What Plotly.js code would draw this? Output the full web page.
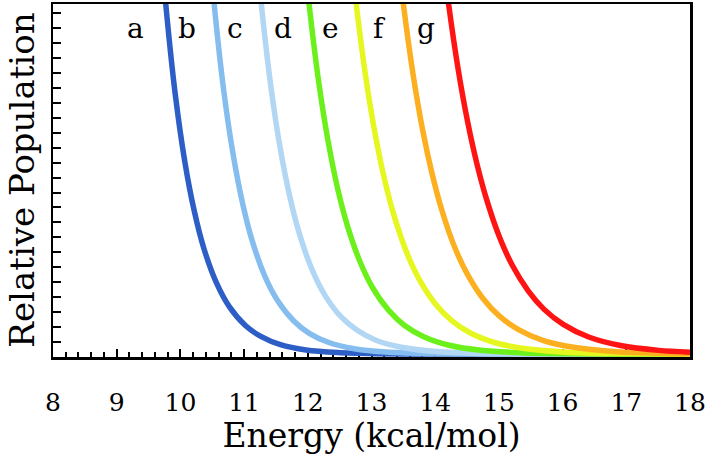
<!DOCTYPE html>
<html>
<head>
<meta charset="utf-8">
<script src="https://cdn.plot.ly/plotly-3.0.1.min.js"></script>
<style>
  html, body { margin: 0; padding: 0; background: #ffffff; }
  #chart { width: 706px; height: 463px; }
</style>
</head>
<body>
<div id="chart"></div>
<script>
// Curve labels and colours
var curveNames = ["a", "b", "c", "d", "e", "f", "g"];
var curveColors = ["#2d5ec6", "#86bdef", "#b2d7f4", "#6cf01c", "#e6f61f", "#fcb020", "#ff1414"];

// Energy (kcal/mol) sample points
var energyA = [9.67, 9.77, 9.92, 10.07, 10.22, 10.37, 10.57, 10.77, 11.02, 11.27, 11.57, 11.97, 12.47, 13.07, 13.77, 14.77, 18.0];
var popA    = [1.221, 1.0, 0.741, 0.549, 0.407, 0.301, 0.202, 0.135, 0.082, 0.050, 0.027, 0.012, 0.0045, 0.0014, 0.0003, 0.0001, 0.0];

var energyB = [10.43, 10.53, 10.68, 10.83, 10.98, 11.13, 11.33, 11.53, 11.78, 12.03, 12.33, 12.73, 13.23, 13.83, 14.53, 15.53, 18.0];
var popB    = [1.208, 1.0, 0.753, 0.568, 0.428, 0.322, 0.221, 0.152, 0.095, 0.059, 0.0335, 0.0158, 0.0061, 0.0020, 0.0005, 0.0001, 0.0];

var energyC = [11.17, 11.27, 11.42, 11.57, 11.72, 11.87, 12.07, 12.27, 12.52, 12.77, 13.07, 13.47, 13.97, 14.57, 15.27, 16.27, 18.0];
var popC    = [1.196, 1.0, 0.765, 0.585, 0.448, 0.343, 0.240, 0.168, 0.107, 0.069, 0.040, 0.0197, 0.0081, 0.0028, 0.0008, 0.0001, 0.0];

var energyD = [11.92, 12.02, 12.17, 12.32, 12.47, 12.62, 12.82, 13.02, 13.27, 13.52, 13.82, 14.22, 14.72, 15.32, 16.02, 17.02, 18.0];
var popD    = [1.181, 1.0, 0.779, 0.607, 0.472, 0.368, 0.264, 0.189, 0.125, 0.082, 0.050, 0.0256, 0.0111, 0.0041, 0.0013, 0.0002, 0.0001];

var energyE = [12.66, 12.76, 12.91, 13.06, 13.21, 13.36, 13.56, 13.76, 14.01, 14.26, 14.56, 14.96, 15.46, 16.06, 16.76, 17.76, 18.0];
var popE    = [1.169, 1.0, 0.791, 0.626, 0.495, 0.392, 0.287, 0.210, 0.142, 0.096, 0.060, 0.032, 0.0147, 0.0058, 0.0019, 0.0004, 0.0003];

var energyF = [13.40, 13.50, 13.65, 13.80, 13.95, 14.10, 14.30, 14.50, 14.75, 15.00, 15.30, 15.70, 16.20, 16.80, 17.50, 18.0];
var popF    = [1.158, 1.0, 0.802, 0.643, 0.516, 0.414, 0.308, 0.230, 0.159, 0.110, 0.071, 0.039, 0.0189, 0.0078, 0.0028, 0.0013];

var energyG = [14.11, 14.21, 14.36, 14.51, 14.66, 14.81, 15.01, 15.21, 15.46, 15.71, 16.01, 16.41, 16.91, 17.51, 18.0];
var popG    = [1.147, 1.0, 0.814, 0.663, 0.540, 0.440, 0.334, 0.254, 0.181, 0.128, 0.085, 0.049, 0.0247, 0.0109, 0.0056];

// Label positions (energy) for the letters a-g
var labelEnergy = [9.29, 10.10, 10.86, 11.61, 12.36, 13.12, 13.86];
var labelPop = 0.93;

var xTickVals = [8, 9, 10, 11, 12, 13, 14, 15, 16, 17, 18];
var xTickText = ["8", "9", "10", "11", "12", "13", "14", "15", "16", "17", "18"];

var xTitle = "Energy (kcal/mol)";
var yTitle = "Relative Population";

var energies = [energyA, energyB, energyC, energyD, energyE, energyF, energyG];
var pops = [popA, popB, popC, popD, popE, popF, popG];

var serif = "DejaVu Serif, Liberation Serif, serif";

var traces = energies.map(function (xs, i) {
  return {
    type: "scatter",
    mode: "lines",
    name: curveNames[i],
    x: xs,
    y: pops[i],
    line: { color: curveColors[i], width: 5.5, shape: "spline", smoothing: 0.8 },
    hoverinfo: "skip"
  };
});

var annotations = curveNames.map(function (n, i) {
  return {
    x: labelEnergy[i], y: labelPop, xref: "x", yref: "y",
    text: n, showarrow: false,
    font: { family: serif, size: 28, color: "#000000" }
  };
});

// y-axis title as rotated text left of the plot
annotations.push({
  x: -0.05, y: 0.5, xref: "paper", yref: "paper",
  xanchor: "center", yanchor: "middle",
  text: yTitle, textangle: -90, showarrow: false,
  font: { family: serif, size: 34, color: "#000000" }
});

var layout = {
  width: 706, height: 463,
  margin: { l: 53, r: 16, t: 4, b: 106 },
  paper_bgcolor: "#ffffff", plot_bgcolor: "#ffffff",
  showlegend: false,
  xaxis: {
    range: [8, 18],
    tickmode: "array", tickvals: xTickVals, ticktext: xTickText,
    ticks: "inside", ticklen: 8, tickwidth: 2, tickcolor: "#000000",
    minor: { dtick: 0.2, ticks: "inside", ticklen: 5, tickwidth: 2, tickcolor: "#000000", showgrid: false },
    showgrid: false, zeroline: false,
    showline: true, linecolor: "#000000", linewidth: 2.5, mirror: true,
    layer: "below traces",
    tickfont: { family: serif, size: 25, color: "#000000" },
    ticklabelstandoff: 21,
    title: { text: xTitle, font: { family: serif, size: 33, color: "#000000" }, standoff: 6 }
  },
  yaxis: {
    range: [-0.008, 1.0],
    tickmode: "linear", tick0: 0.0347, dtick: 0.0427,
    ticks: "inside", ticklen: 8, tickwidth: 2, tickcolor: "#000000",
    showticklabels: false,
    showgrid: false, zeroline: false,
    showline: true, linecolor: "#000000", linewidth: 2.5, mirror: true,
    layer: "below traces"
  },
  annotations: annotations
};

Plotly.newPlot("chart", traces, layout, { displayModeBar: false, staticPlot: true });
</script>
</body>
</html>
